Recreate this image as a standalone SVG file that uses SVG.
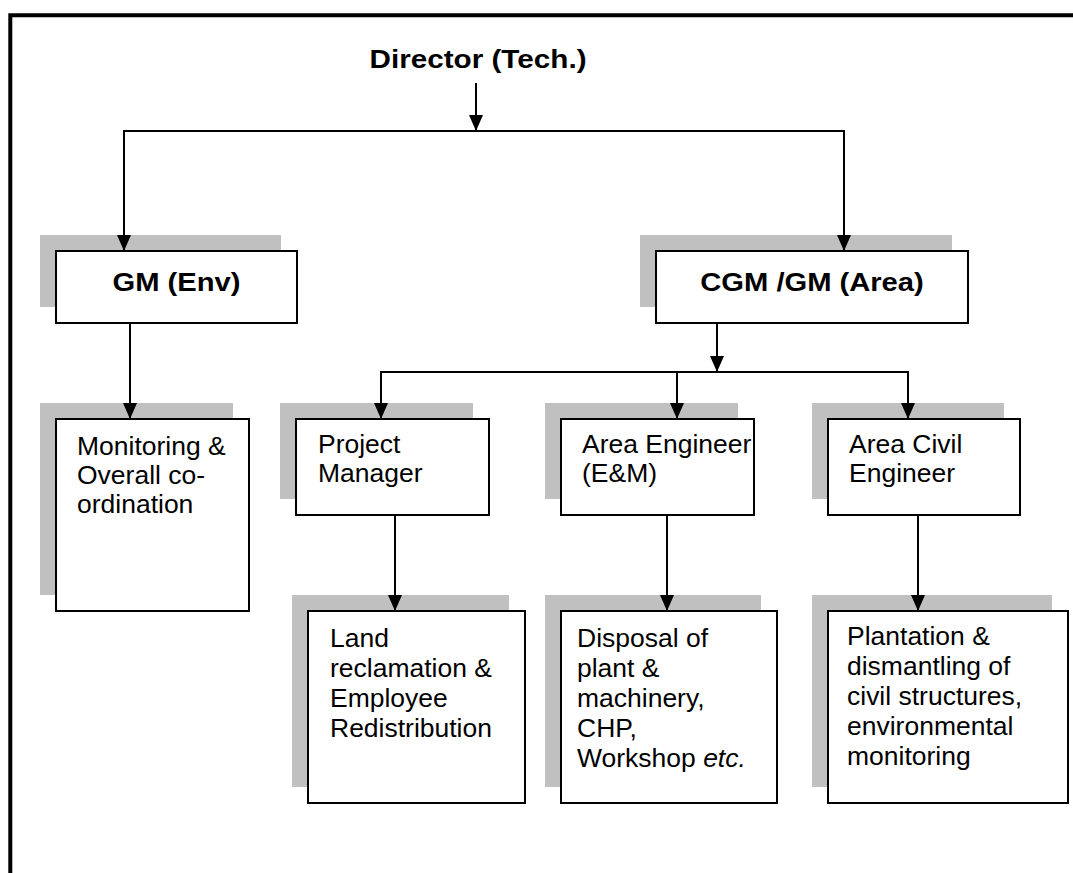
<svg xmlns="http://www.w3.org/2000/svg" width="1073" height="873" viewBox="0 0 1073 873">
  <style>
    .shadow { fill: #c0c0c0; stroke: none; }
    .box { fill: #ffffff; stroke: #000000; stroke-width: 2; }
    .conn { stroke: #000000; stroke-width: 2; fill: none; }
    .frame { stroke: #000000; stroke-width: 4; fill: none; }
    .t { font-family: "Liberation Sans", Arial, sans-serif; font-size: 25px; fill: #000000; }
    .tb { font-family: "Liberation Sans", Arial, sans-serif; font-size: 26.5px; font-weight: bold; fill: #000000; text-anchor: middle; }
  </style>
  <defs>
    <marker id="arrow" markerUnits="userSpaceOnUse" viewBox="0 -7 16 14" refX="16" refY="0" markerWidth="16" markerHeight="14" orient="auto">
      <path d="M0,-7 L16,0 L0,7 z" fill="#000000"/>
    </marker>
  </defs>
  <rect x="0" y="0" width="1073" height="873" fill="#ffffff"/>
  <g id="frame">
    <path class="frame" d="M10.3,873 L10.3,15.3 L1073,15.3"/>
  </g>
  <g id="director">
    <text class="tb" transform="translate(478,68) scale(1.12 1)">Director (Tech.)</text>
  </g>
  <g id="gm-env">
    <rect class="shadow" x="40" y="235" width="241" height="72"/>
    <rect class="box" x="56" y="251" width="241" height="72"/>
    <text class="tb" transform="translate(176.5,291) scale(1.1 1)">GM (Env)</text>
  </g>
  <g id="cgm-area">
    <rect class="shadow" x="640" y="235" width="312" height="72"/>
    <rect class="box" x="656" y="251" width="312" height="72"/>
    <text class="tb" transform="translate(812,291) scale(1.1 1)">CGM /GM (Area)</text>
  </g>
  <g id="monitoring">
    <rect class="shadow" x="40" y="403" width="193" height="192"/>
    <rect class="box" x="56" y="419" width="193" height="192"/>
    <text class="t" transform="translate(77,455) scale(1.06 1)"><tspan x="0" y="0">Monitoring &amp;</tspan><tspan x="0" y="29">Overall co-</tspan><tspan x="0" y="58">ordination</tspan></text>
  </g>
  <g id="project-manager">
    <rect class="shadow" x="280" y="403" width="193" height="96"/>
    <rect class="box" x="296" y="419" width="193" height="96"/>
    <text class="t" transform="translate(318,453.3) scale(1.06 1)"><tspan x="0" y="0">Project</tspan><tspan x="0" y="28.5">Manager</tspan></text>
  </g>
  <g id="area-engineer">
    <rect class="shadow" x="545" y="403" width="193" height="96"/>
    <rect class="box" x="561" y="419" width="193" height="96"/>
    <text class="t" transform="translate(582,453.3) scale(1.06 1)"><tspan x="0" y="0">Area Engineer</tspan><tspan x="0" y="28.5">(E&amp;M)</tspan></text>
  </g>
  <g id="area-civil-engineer">
    <rect class="shadow" x="812" y="403" width="192" height="96"/>
    <rect class="box" x="828" y="419" width="192" height="96"/>
    <text class="t" transform="translate(849,453.3) scale(1.06 1)"><tspan x="0" y="0">Area Civil</tspan><tspan x="0" y="28.5">Engineer</tspan></text>
  </g>
  <g id="land">
    <rect class="shadow" x="292" y="595" width="217" height="192"/>
    <rect class="box" x="308" y="611" width="217" height="192"/>
    <text class="t" transform="translate(330,646.7) scale(1.06 1)"><tspan x="0" y="0">Land</tspan><tspan x="0" y="30">reclamation &amp;</tspan><tspan x="0" y="60">Employee</tspan><tspan x="0" y="90">Redistribution</tspan></text>
  </g>
  <g id="disposal">
    <rect class="shadow" x="545" y="595" width="216" height="192"/>
    <rect class="box" x="561" y="611" width="216" height="192"/>
    <text class="t" transform="translate(577,646.7) scale(1.06 1)"><tspan x="0" y="0">Disposal of</tspan><tspan x="0" y="30">plant &amp;</tspan><tspan x="0" y="60">machinery,</tspan><tspan x="0" y="90">CHP,</tspan><tspan x="0" y="120">Workshop <tspan font-style="italic">etc.</tspan></tspan></text>
  </g>
  <g id="plantation">
    <rect class="shadow" x="812" y="595" width="240" height="192"/>
    <rect class="box" x="828" y="611" width="240" height="192"/>
    <text class="t" transform="translate(847,645) scale(1.06 1)"><tspan x="0" y="0">Plantation &amp;</tspan><tspan x="0" y="30">dismantling of</tspan><tspan x="0" y="60">civil structures,</tspan><tspan x="0" y="90">environmental</tspan><tspan x="0" y="120">monitoring</tspan></text>
  </g>
  <g id="connectors">
    <line class="conn" x1="476" y1="83" x2="476" y2="131" marker-end="url(#arrow)"/>
    <path class="conn" d="M124,251 L124,131 L844,131 L844,251"/>
    <line class="conn" x1="124" y1="200" x2="124" y2="251" marker-end="url(#arrow)"/>
    <line class="conn" x1="844" y1="200" x2="844" y2="251" marker-end="url(#arrow)"/>
    <line class="conn" x1="130" y1="323" x2="130" y2="419" marker-end="url(#arrow)"/>
    <line class="conn" x1="717" y1="323" x2="717" y2="372" marker-end="url(#arrow)"/>
    <path class="conn" d="M381,419 L381,372 L908,372 L908,419"/>
    <line class="conn" x1="381" y1="390" x2="381" y2="419" marker-end="url(#arrow)"/>
    <line class="conn" x1="677" y1="372" x2="677" y2="419" marker-end="url(#arrow)"/>
    <line class="conn" x1="908" y1="390" x2="908" y2="419" marker-end="url(#arrow)"/>
    <line class="conn" x1="395" y1="515" x2="395" y2="611" marker-end="url(#arrow)"/>
    <line class="conn" x1="667" y1="515" x2="667" y2="611" marker-end="url(#arrow)"/>
    <line class="conn" x1="918" y1="515" x2="918" y2="611" marker-end="url(#arrow)"/>
  </g>
</svg>
